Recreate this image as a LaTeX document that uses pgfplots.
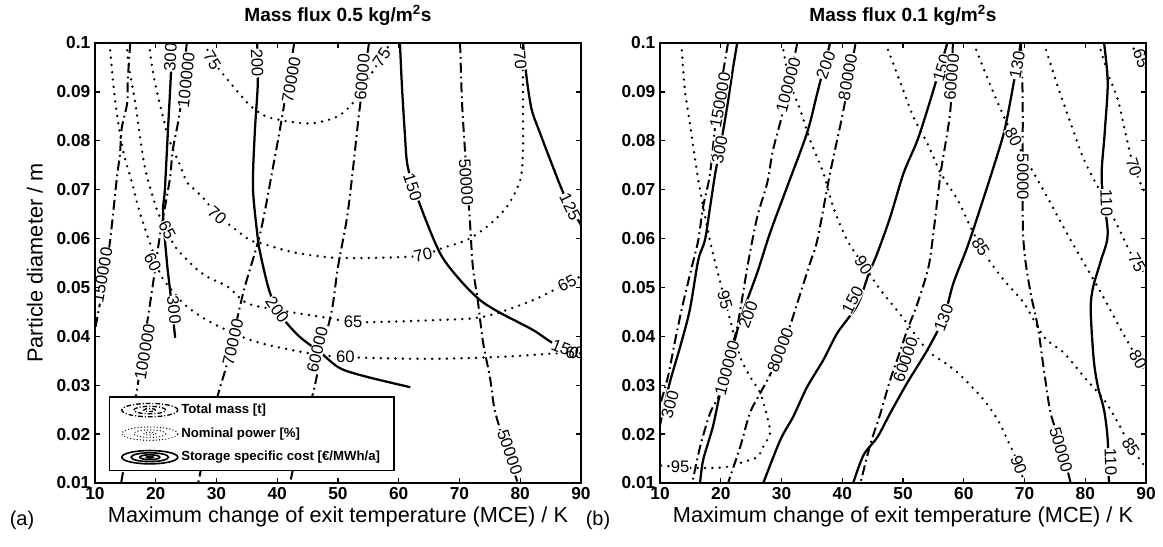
\documentclass[border=0pt]{standalone}
\usepackage{fontspec}
\setmainfont{Liberation Sans}
\usepackage{pgfplots}
\pgfplotsset{compat=1.18}
\tikzset{lbl/.style={font=\fontsize{12.5}{13}\selectfont, fill=white, inner sep=0.4pt}}
\pgfplotsset{
  cs/.style={black, line width=1.7pt, mark=none, smooth, tension=0.5, forget plot},
  dd/.style={black, line width=1.5pt, mark=none, smooth, tension=0.5, dash pattern=on 7.5pt off 3pt on 1.3pt off 3pt, forget plot},
  dt/.style={black, line width=2pt, mark=none, smooth, tension=0.5, line cap=round, dash pattern=on 0pt off 5.5pt, forget plot},
  panel/.style={
    scale only axis, width=364.5pt, height=330pt,
    xmin=10, xmax=90, ymin=0.01, ymax=0.1,
    xtick={10,20,30,40,50,60,70,80,90},
    ytick={0.01,0.02,0.03,0.04,0.05,0.06,0.07,0.08,0.09,0.1},
    yticklabels={0.01,0.02,0.03,0.04,0.05,0.06,0.07,0.08,0.09,0.1},
    tick align=inside, major tick length=4pt,
    tick style={line width=1pt, black},
    axis line style={line width=1.4pt},
    ticklabel style={font=\bfseries\fontsize{13}{15}\selectfont},
    /pgf/number format/assume math mode=true,
    axis on top,
    title style={at={(0.5,1.045)}, anchor=center, font=\bfseries\fontsize{14.3}{16}\selectfont},
    xlabel style={at={(0.5,-0.077)}, anchor=center, font=\fontsize{16.3}{18}\selectfont},
  }
}
\begin{document}
\begin{tikzpicture}
\useasboundingbox (0,0) rectangle (872.25pt,409.5pt);
% ================= panel (a) =================
\begin{axis}[panel, at={(71.25pt,47.25pt)}, anchor=south west,
  title={Mass flux 0.5 kg/m\textsuperscript{2}s},
  xlabel={Maximum change of exit temperature (MCE) / K},
  ylabel={Particle diameter / m},
  ylabel style={at={(-0.1235,0.5)}, anchor=center, font=\fontsize{16.3}{18}\selectfont},
  legend cell align=left,
  legend style={at={(0.0288,0.0273)}, anchor=south west, draw=black, line width=1pt,
    font=\bfseries\fontsize{9.9}{11}\selectfont, inner xsep=8.5pt, inner ysep=3.5pt, row sep=5pt},
]
\addlegendimage{legend image code/.code={
  \draw[black,line width=1pt,dash pattern=on 3.5pt off 1.5pt on 0.8pt off 1.5pt] (22pt,0pt) ellipse (21pt and 5pt);
  \draw[black,line width=1pt,dash pattern=on 3.5pt off 1.5pt on 0.8pt off 1.5pt] (22pt,0pt) ellipse (12pt and 2.8pt);
  \draw[black,line width=1pt,dash pattern=on 3pt off 1.5pt on 0.8pt off 1.5pt] (22pt,0pt) ellipse (4.5pt and 1.1pt);}}
\addlegendentry{Total mass [t]}
\addlegendimage{legend image code/.code={
  \draw[black,line width=1pt,line cap=round,dash pattern=on 0pt off 2.4pt] (22pt,0pt) ellipse (21pt and 5pt);
  \draw[black,line width=1pt,line cap=round,dash pattern=on 0pt off 2.4pt] (22pt,0pt) ellipse (12pt and 2.8pt);
  \draw[black,line width=1pt,line cap=round,dash pattern=on 0pt off 2.4pt] (22pt,0pt) ellipse (4.5pt and 1.1pt);}}
\addlegendentry{Nominal power [\%]}
\addlegendimage{legend image code/.code={
  \draw[black,line width=1.2pt] (22pt,0pt) ellipse (21pt and 5pt);
  \draw[black,line width=1.2pt] (22pt,0pt) ellipse (14pt and 3.3pt);
  \draw[black,line width=1.2pt] (22pt,0pt) ellipse (7.5pt and 1.8pt);
  \draw[black,line width=1.2pt] (22pt,0pt) ellipse (2.5pt and 0.6pt);}}
\addlegendentry{Storage specific cost [€/MWh/a]}
% nominal power (dotted)
\addplot[dt] coordinates {(12.4,0.1)(13.3,0.0883)(14.6,0.0781)(16.1,0.0714)(17.4,0.0652)(19.9,0.0560)(21.0,0.0521)(24.5,0.0468)(27.5,0.0440)(30.6,0.0419)(35,0.0395)(39.3,0.0380)(47.0,0.0362)(54.8,0.0356)(65.6,0.0354)(76.7,0.0358)(86.5,0.0366)(90,0.0372)};
\addplot[dt] coordinates {(15.2,0.1)(15.6,0.095)(16.6,0.088)(17.4,0.0808)(18.2,0.0746)(19.05,0.0705)(20.4,0.0652)(21.85,0.0618)(23.2,0.0583)(26.5,0.054)(28.6,0.0521)(31.9,0.0501)(35.0,0.0468)(40.0,0.0454)(48.2,0.0438)(53.1,0.0429)(65.6,0.0433)(73.9,0.0440)(82.1,0.0474)(87.7,0.0509)(90,0.0523)};
\addplot[dt] coordinates {(18.9,0.1)(19.4,0.0951)(20.2,0.0900)(21.2,0.0849)(22.2,0.0802)(24.0,0.0750)(25.1,0.0716)(26.5,0.0699)(28.1,0.0679)(30.1,0.0648)(32.55,0.0624)(35.5,0.0597)(37.2,0.0591)(42.6,0.0572)(48.2,0.0562)(52.5,0.0560)(60.2,0.0562)(64.0,0.0566)(67.3,0.0581)(71.2,0.0597)(74.5,0.0624)(77.8,0.0665)(80.0,0.0720)(80.45,0.0781)(80.45,0.0849)(80.45,0.0918)(80.3,0.1)};
\addplot[dt] coordinates {(28.1,0.1)(29.3,0.0965)(31.9,0.0924)(34.2,0.0890)(35.8,0.0869)(38.3,0.0849)(42.6,0.0838)(45.9,0.0836)(49.8,0.0849)(52.3,0.0875)(54.8,0.0924)(57.2,0.0971)(58.6,0.1)};
% storage specific cost (solid)
\addplot[cs] coordinates {(22.5,0.1)(22.5,0.0939)(22.0,0.0820)(21.5,0.0699)(21.2,0.0652)(21.85,0.0550)(22.35,0.0495)(23.2,0.0397)};
\addplot[cs] coordinates {(36.7,0.1)(36.8,0.0918)(36.3,0.0816)(36.0,0.0705)(36.7,0.0611)(37.2,0.0570)(38.8,0.0489)(40.9,0.0438)(43.7,0.0399)(47.0,0.0368)(50.3,0.0335)(54.8,0.0317)(61.9,0.0296)};
\addplot[cs] coordinates {(60.2,0.1)(60.5,0.0918)(61.0,0.0816)(61.5,0.0746)(63.5,0.0669)(66.8,0.0570)(70.1,0.0515)(73.4,0.0474)(76.7,0.0448)(82.1,0.0413)(85.4,0.0386)(89.0,0.0368)(90,0.0365)};
\addplot[cs] coordinates {(80.45,0.1)(81.1,0.0924)(81.9,0.0863)(83.25,0.0816)(85.4,0.0746)(87.4,0.0685)(90,0.0628)};
% total mass (dash-dot)
\addplot[dd] coordinates {(15.8,0.1)(15.4,0.0924)(15.3,0.0877)(14.4,0.0826)(14.1,0.0771)(13.6,0.0724)(12.5,0.0597)(11.5,0.0515)(10,0.0413)};
\addplot[dd] coordinates {(25.1,0.1)(24.0,0.0863)(22.8,0.0781)(22.3,0.0720)(20.7,0.0607)(19.4,0.0495)(17.9,0.0372)(16.9,0.0290)(15.8,0.0208)(14.3,0.01)};
\addplot[dd] coordinates {(42.8,0.1)(40.8,0.0849)(39.3,0.0746)(37.2,0.0611)(34.4,0.0489)(31.9,0.0352)(30.6,0.0296)(28.9,0.0218)(27.0,0.01)};
\addplot[dd] coordinates {(55.1,0.1)(53.6,0.0869)(52.5,0.0746)(51.5,0.0644)(50.0,0.0542)(49.0,0.0454)(47.4,0.0372)(45.9,0.0284)(43.7,0.0188)(42.1,0.01)};
\addplot[dd] coordinates {(70.1,0.1)(70.4,0.0883)(70.9,0.0781)(71.7,0.0638)(72.2,0.0542)(73.0,0.0474)(73.9,0.0386)(75.0,0.0317)(75.8,0.0249)(77.5,0.0178)(79.6,0.01)};
% contour labels
\node[lbl,rotate=87] at (axis cs:22.4,0.0971) {300};
\node[lbl,rotate=84] at (axis cs:25.0,0.0924) {100000};
\node[lbl,rotate=-58] at (axis cs:29.3,0.0965) {75};
\node[lbl,rotate=-88] at (axis cs:36.7,0.0959) {200};
\node[lbl,rotate=80] at (axis cs:42.3,0.0924) {70000};
\node[lbl,rotate=85] at (axis cs:54.0,0.0930) {60000};
\node[lbl,rotate=56] at (axis cs:57.2,0.0971) {75};
\node[lbl,rotate=-72] at (axis cs:62.3,0.0705) {150};
\node[lbl,rotate=-86] at (axis cs:71.1,0.0716) {50000};
\node[lbl,rotate=-85] at (axis cs:80.0,0.0965) {70};
\node[lbl,rotate=-64] at (axis cs:88.2,0.0665) {125};
\node[lbl,rotate=-42] at (axis cs:30.1,0.0648) {70};
\node[lbl,rotate=12] at (axis cs:64.0,0.0566) {70};
\node[lbl,rotate=-63] at (axis cs:21.9,0.0618) {65};
\node[lbl,rotate=-64] at (axis cs:19.5,0.0552) {60};
\node[lbl,rotate=80] at (axis cs:11.2,0.0525) {150000};
\node[lbl,rotate=-84] at (axis cs:23.0,0.0454) {300};
\node[lbl,rotate=-56] at (axis cs:40.0,0.0454) {200};
\node[lbl] at (axis cs:52.5,0.0429) {65};
\node[lbl,rotate=27] at (axis cs:87.7,0.0509) {65};
\node[lbl,rotate=80] at (axis cs:18.2,0.0368) {100000};
\node[lbl,rotate=77] at (axis cs:32.7,0.0388) {70000};
\node[lbl] at (axis cs:51.2,0.0358) {60};
\node[lbl,rotate=77] at (axis cs:46.6,0.0372) {60000};
\node[lbl,rotate=-22] at (axis cs:87.4,0.0374) {150};
\node[font=\fontsize{12.5}{13}\selectfont, inner sep=0.4pt] at (axis cs:89.0,0.0366) {60};
\node[lbl,rotate=-71] at (axis cs:78.3,0.0163) {50000};
\end{axis}
% ================= panel (b) =================
\begin{axis}[panel, at={(495pt,47.25pt)}, anchor=south west,
  title={Mass flux 0.1 kg/m\textsuperscript{2}s},
  xlabel={Maximum change of exit temperature (MCE) / K},
]
% nominal power (dotted)
\addplot[dt] coordinates {(13.5,0.1)(14.1,0.0904)(14.9,0.0837)(16.3,0.0720)(18.2,0.0597)(19.6,0.0526)(20.7,0.0474)(21.55,0.0433)(23.2,0.0358)(24.85,0.0317)(26.5,0.0284)(27.65,0.0235)(28.1,0.0202)(27.0,0.0174)(26.0,0.0153)(23.7,0.0143)(21.05,0.0133)(18.7,0.0131)(15.0,0.0131)(10,0.0136)};
\addplot[dt] coordinates {(30.1,0.1)(31.4,0.0918)(33.1,0.0863)(34.7,0.0802)(36.9,0.0734)(38.5,0.0665)(40.8,0.0597)(43.5,0.0546)(46.3,0.0495)(49.6,0.0444)(54.0,0.0372)(57.0,0.0345)(59.5,0.0320)(63.3,0.0270)(65.6,0.0229)(67.2,0.0188)(69.1,0.0137)(69.9,0.01)};
\addplot[dt] coordinates {(47.1,0.1)(49.6,0.0918)(51.7,0.0849)(54.0,0.0795)(56.2,0.0734)(59.0,0.0679)(61.1,0.0624)(63.6,0.0566)(66.6,0.0515)(69.9,0.0468)(73.2,0.0399)(76.5,0.0366)(79.8,0.0317)(83.1,0.0270)(85.4,0.0223)(87.5,0.0174)(90,0.0131)};
\addplot[dt] coordinates {(61.6,0.1)(64.9,0.0898)(68.2,0.0808)(73.2,0.0697)(77.6,0.0597)(82.6,0.0489)(85.9,0.0413)(88.7,0.0352)(90,0.0327)};
\addplot[dt] coordinates {(73.2,0.1)(75.5,0.0910)(77.6,0.0836)(79.8,0.0761)(82.6,0.0693)(85.4,0.0624)(87.5,0.0570)(90,0.0525)};
\addplot[dt] coordinates {(82.2,0.1)(83.7,0.0939)(85.4,0.0883)(86.4,0.0828)(88.0,0.0746)(90,0.0689)};
\addplot[dt] coordinates {(87.2,0.1)(88.8,0.0975)(90,0.0949)};
% storage specific cost (solid)
\addplot[cs] coordinates {(22.7,0.1)(21.9,0.0939)(21.05,0.0869)(19.9,0.0785)(19.1,0.0734)(18.25,0.0665)(17.4,0.0597)(16.3,0.0556)(14.9,0.0454)(13.3,0.0378)(11.6,0.0305)(10,0.0219)};
\addplot[cs] coordinates {(38.0,0.1)(35.9,0.0898)(34.2,0.0816)(30.9,0.0705)(28.1,0.0611)(26.0,0.0530)(23.2,0.0433)(21.05,0.0331)(19.9,0.0284)(18.7,0.0215)(17.1,0.0147)(16.6,0.01)};
\addplot[cs] coordinates {(57.3,0.1)(54.5,0.0883)(52.4,0.0802)(50.1,0.0734)(47.9,0.0644)(45.8,0.0571)(44.3,0.0526)(42.5,0.0464)(39.2,0.0407)(36.9,0.0352)(34.2,0.0296)(31.9,0.0235)(29.8,0.0188)(27.0,0.01)};
\addplot[cs] coordinates {(69.4,0.1)(67.7,0.0883)(66.6,0.0816)(64.9,0.0746)(62.8,0.0665)(60.6,0.0583)(58.3,0.0509)(56.7,0.0438)(54.0,0.0372)(50.7,0.0305)(47.9,0.0243)(45.8,0.0194)(43.5,0.0157)(41.8,0.01)};
\addplot[cs] coordinates {(83.1,0.1)(83.7,0.0918)(83.2,0.0816)(82.7,0.0720)(83.7,0.0611)(82.6,0.0556)(81.3,0.0501)(80.9,0.0454)(81.4,0.0352)(82.1,0.0296)(83.1,0.0249)(83.7,0.0188)(83.9,0.01)};
% total mass (dash-dot)
\addplot[dd] coordinates {(21.2,0.1)(19.4,0.0863)(18.25,0.0734)(17.1,0.0665)(16.3,0.0597)(15.4,0.0550)(13.8,0.0468)(12.5,0.0392)(11.3,0.0317)(10,0.0260)};
\addplot[dd] coordinates {(32.6,0.1)(30.3,0.0863)(28.6,0.0781)(27.65,0.0714)(26.0,0.0644)(24.5,0.0550)(22.7,0.0419)(21.2,0.0352)(19.9,0.0284)(18.25,0.0243)(16.6,0.0174)(15.3,0.01)};
\addplot[dd] coordinates {(42.2,0.1)(40.2,0.0863)(38.0,0.0734)(35.9,0.0597)(34.7,0.0550)(32.6,0.0468)(30.6,0.0392)(28.1,0.0321)(26.5,0.0284)(24.8,0.0243)(23.2,0.0174)(21.2,0.01)};
\addplot[dd] coordinates {(58.2,0.1)(57.8,0.0863)(56.2,0.0734)(55.0,0.0611)(54.2,0.0542)(52.4,0.0468)(50.7,0.0413)(49.6,0.0372)(47.9,0.0311)(46.3,0.0243)(44.6,0.0178)(43.0,0.01)};
\addplot[dd] coordinates {(69.4,0.1)(69.7,0.0883)(69.7,0.0652)(70.0,0.0570)(71.0,0.0489)(72.2,0.0419)(73.2,0.0331)(74.3,0.0243)(76.0,0.0178)(77.6,0.01)};
% contour labels
\node[lbl,rotate=80] at (axis cs:19.9,0.0883) {150000};
\node[lbl,rotate=79] at (axis cs:19.8,0.0782) {300};
\node[lbl,rotate=75] at (axis cs:31.1,0.0914) {100000};
\node[lbl,rotate=70] at (axis cs:37.3,0.0955) {200};
\node[lbl,rotate=80] at (axis cs:40.9,0.0930) {80000};
\node[lbl,rotate=-57] at (axis cs:43.5,0.0546) {90};
\node[lbl,rotate=73] at (axis cs:56.4,0.0949) {150};
\node[lbl,rotate=85] at (axis cs:58.0,0.0930) {60000};
\node[lbl,rotate=80] at (axis cs:68.8,0.0955) {130};
\node[lbl,rotate=-63] at (axis cs:68.2,0.0808) {80};
\node[lbl,rotate=-90] at (axis cs:69.75,0.0726) {50000};
\node[lbl,rotate=-88] at (axis cs:83.5,0.0673) {110};
\node[lbl,rotate=-72] at (axis cs:88.0,0.0746) {70};
\node[lbl,rotate=-70] at (axis cs:89.2,0.0969) {65};
\node[lbl,rotate=-60] at (axis cs:88.5,0.0550) {75};
\node[lbl,rotate=-58] at (axis cs:62.8,0.0583) {85};
\node[lbl,rotate=62] at (axis cs:41.7,0.0474) {150};
\node[lbl,rotate=-75] at (axis cs:20.7,0.0474) {95};
\node[lbl,rotate=70] at (axis cs:24.5,0.0444) {200};
\node[lbl,rotate=75] at (axis cs:21.05,0.0335) {100000};
\node[lbl,rotate=69] at (axis cs:29.8,0.0372) {80000};
\node[lbl,rotate=75] at (axis cs:11.65,0.0260) {300};
\node[lbl] at (axis cs:13.3,0.0133) {95};
\node[lbl,rotate=69] at (axis cs:56.7,0.0438) {130};
\node[lbl,rotate=71] at (axis cs:50.4,0.0352) {60000};
\node[lbl,rotate=-70] at (axis cs:69.05,0.0137) {90};
\node[lbl,rotate=-74] at (axis cs:76.0,0.0168) {50000};
\node[lbl,rotate=-88] at (axis cs:84.2,0.0143) {110};
\node[lbl,rotate=-59] at (axis cs:88.7,0.0352) {80};
\node[lbl,rotate=-58] at (axis cs:87.5,0.0174) {85};
\end{axis}
\node[font=\fontsize{15}{17}\selectfont] at (16.5pt,19.5pt) {(a)};
\node[font=\fontsize{15}{17}\selectfont] at (448.5pt,19.5pt) {(b)};
\end{tikzpicture}
\end{document}
